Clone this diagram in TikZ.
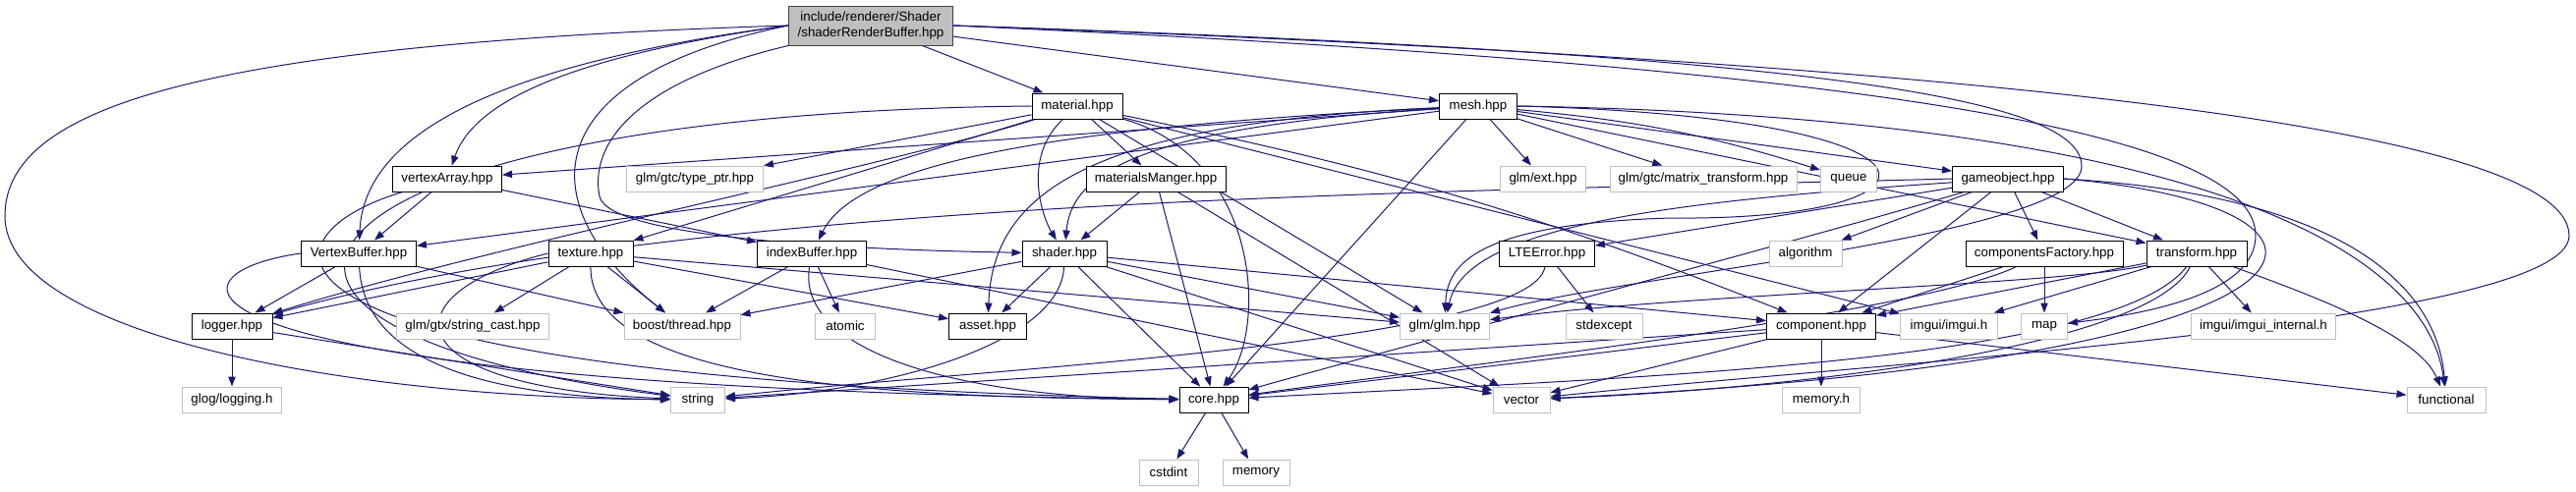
\documentclass[tikz,border=0pt]{standalone}
\usepackage{fontspec}
\setmainfont{Liberation Sans}
\usetikzlibrary{arrows.meta,backgrounds}
\definecolor{Edge}{HTML}{191970}
\definecolor{Frame}{HTML}{BFBFBF}
\definecolor{Rim}{HTML}{404040}

\begin{document}
\begin{tikzpicture}[x=0.75pt,y=-0.75pt,every node/.style={font=\fontsize{10}{12}\selectfont,text=black,inner sep=0pt,minimum height=19.5pt},file/.style={draw=black,fill=white,line width=0.75pt},sys/.style={draw=Frame,fill=white,line width=0.75pt},wd/.style={minimum width=#1*0.75pt},dep/.style={draw=Edge,line width=0.75pt,-{Triangle[length=7.5pt,width=5.5pt]}}]
\useasboundingbox (0,0) rectangle (2621,500);
\node[file,fill=Frame,draw=Rim,wd=167,minimum height=30pt,align=center] (root) at (886,26) {include/renderer/Shader\\/shaderRenderBuffer.hpp};

\node[file,wd=92] (material) at (1096,108) {material.hpp};\node[file,wd=79] (mesh) at (1504,108) {mesh.hpp};

\node[file,wd=111] (vertexArray) at (455,182) {vertexArray.hpp};\node[sys,wd=139] (typePtr) at (707,182) {glm/gtc/type\_ptr.hpp};
\node[file,wd=142] (materialsManger) at (1176,182) {materialsManger.hpp};\node[sys,wd=87] (glmExt) at (1570,182) {glm/ext.hpp};
\node[sys,wd=190] (matrixTransform) at (1733,182) {glm/gtc/matrix\_transform.hpp};\node[sys,wd=57] (queue) at (1881,182) {queue};
\node[file,wd=113] (gameobject) at (2043,182) {gameobject.hpp};

\node[file,wd=117] (vertexBuffer) at (365,258) {VertexBuffer.hpp};\node[file,wd=86] (texture) at (601,258) {texture.hpp};
\node[file,wd=111] (indexBuffer) at (826,258) {indexBuffer.hpp};\node[file,wd=86] (shader) at (1083,258) {shader.hpp};
\node[file,wd=97] (lteError) at (1574,258) {LTEError.hpp};\node[sys,wd=74] (algorithm) at (1837,258) {algorithm};
\node[file,wd=160] (componentsFactory) at (2080,258) {componentsFactory.hpp};\node[file,wd=102] (transform) at (2235,258) {transform.hpp};

\node[file,wd=82] (logger) at (236,332) {logger.hpp};\node[sys,wd=155] (stringCast) at (481,332) {glm/gtx/string\_cast.hpp};
\node[sys,wd=118] (boostThread) at (694,332) {boost/thread.hpp};\node[sys,wd=61] (atomic) at (860,332) {atomic};
\node[file,wd=79] (asset) at (1005,332) {asset.hpp};\node[sys,wd=91] (glmGlm) at (1470,332) {glm/glm.hpp};
\node[sys,wd=78] (stdexcept) at (1632,332) {stdexcept};\node[file,wd=111] (component) at (1853,332) {component.hpp};
\node[sys,wd=99] (imgui) at (1983,332) {imgui/imgui.h};\node[sys,wd=47] (map) at (2080,332) {map};
\node[sys,wd=147] (imguiInternal) at (2303,332) {imgui/imgui\_internal.h};

\node[sys,wd=101] (glog) at (236,407) {glog/logging.h};\node[sys,wd=55] (string) at (710,407) {string};
\node[file,wd=70] (core) at (1235,407) {core.hpp};\node[sys,wd=58] (vector) at (1548,407) {vector};
\node[sys,wd=79] (memoryH) at (1853,407) {memory.h};\node[sys,wd=80] (functional) at (2489,407) {functional};

\node[sys,wd=60] (cstdint) at (1189,481) {cstdint};\node[sys,wd=68] (memory) at (1278,481) {memory};

\begin{scope}[on background layer]
\fill[white] (0,0) rectangle (2621,500);
\draw[dep] (root) -- (material);\draw[dep] (root) -- (mesh);
\draw[dep] (root.west) .. controls (560,60) and (480,110) .. (vertexArray);\draw[dep] (root.west) .. controls (470,70) and (370,150) .. (vertexBuffer);
\draw[dep] (root.south west) .. controls (640,85) and (600,150) .. (610,200) .. controls (620,245) and (900,255) .. (shader);\draw[dep] (root.west) .. controls (540,80) and (540,210) .. (boostThread);
\draw[dep] (root.west) .. controls (200,45) and (5,110) .. (5,220) .. controls (5,340) and (350,405) .. (string);
\draw[dep] (root.east) .. controls (1900,60) and (2614,120) .. (2614,240) .. controls (2614,330) and (1900,370) .. (vector);
\draw[dep] (root.east) .. controls (1950,70) and (2295,140) .. (2295,240) .. controls (2295,300) and (2180,320) .. (map);
\draw[dep] (root.east) .. controls (1850,55) and (2120,100) .. (2118,170) .. controls (2115,240) and (1650,280) .. (glmGlm);

\draw[dep] (material) -- (typePtr);\draw[dep] (material) -- (materialsManger);\draw[dep] (material) -- (texture);
\draw[dep] (material) .. controls (1040,160) and (1060,220) .. (shader);\draw[dep] (material) .. controls (900,170) and (500,250) .. (logger);
\draw[dep] (material) .. controls (1280,160) and (1290,330) .. (core);\draw[dep] (material) -- (glmGlm);\draw[dep] (material) -- (imgui);
\draw[dep] (material) to[bend left=5] (component);\draw[dep] (material.west) .. controls (300,115) and (120,330) .. (string);

\draw[dep] (materialsManger) -- (shader);\draw[dep] (materialsManger) -- (core);\draw[dep] (materialsManger) -- (vector);

\draw[dep] (mesh) -- (vertexArray);\draw[dep] (mesh) -- (vertexBuffer);
\draw[dep] (mesh) .. controls (1050,130) and (870,170) .. (indexBuffer);\draw[dep] (mesh) .. controls (1150,130) and (1090,180) .. (shader);
\draw[dep] (mesh) .. controls (1100,125) and (1010,200) .. (asset);\draw[dep] (mesh) -- (core);
\draw[dep] (mesh) -- (glmExt);\draw[dep] (mesh) -- (matrixTransform);\draw[dep] (mesh) to[bend left=6] (queue);\draw[dep] (mesh) -- (gameobject);\draw[dep] (mesh) -- (transform);
\draw[dep] (mesh.east) .. controls (2250,120) and (2470,260) .. (functional);
\draw[dep] (mesh.east) .. controls (2010,120) and (2000,225) .. (1700,222) .. controls (1500,228) and (1472,270) .. (glmGlm);

\draw[dep] (vertexArray) -- (vertexBuffer);\draw[dep] (vertexArray) -- (indexBuffer);\draw[dep] (vertexArray) .. controls (260,240) and (200,385) .. (core);

\draw[dep] (vertexBuffer) -- (logger);\draw[dep] (vertexBuffer) -- (boostThread);
\draw[dep] (vertexBuffer) .. controls (370,370) and (500,405) .. (string);\draw[dep] (vertexBuffer.west) .. controls (150,280) and (150,395) .. (core);

\draw[dep] (texture) -- (logger);\draw[dep] (texture) -- (stringCast);\draw[dep] (texture) -- (boostThread);
\draw[dep] (texture.west) .. controls (390,300) and (400,395) .. (string);\draw[dep] (texture) .. controls (600,390) and (900,405) .. (core);
\draw[dep] (texture) -- (asset);\draw[dep] (texture) -- (glmGlm);

\draw[dep] (indexBuffer) -- (boostThread);\draw[dep] (indexBuffer) -- (atomic);
\draw[dep] (indexBuffer) .. controls (810,350) and (950,405) .. (core);\draw[dep] (indexBuffer) -- (vector);

\draw[dep] (shader) -- (boostThread);\draw[dep] (shader) -- (asset);\draw[dep] (shader) -- (core);\draw[dep] (shader) -- (glmGlm);\draw[dep] (shader) -- (vector);
\draw[dep] (shader) .. controls (1080,350) and (900,400) .. (string);\draw[dep] (shader) -- (component);

\draw[dep] (lteError) -- (stdexcept);\draw[dep] (lteError) .. controls (1560,350) and (1000,375) .. (string);

\draw[dep] (gameobject) -- (algorithm);\draw[dep] (gameobject) -- (componentsFactory);\draw[dep] (gameobject) -- (transform);
\draw[dep] (gameobject) -- (component);\draw[dep] (gameobject) -- (lteError);
\draw[dep] (gameobject) .. controls (1700,205) and (1490,230) .. (glmGlm);\draw[dep] (gameobject.west) .. controls (1500,195) and (700,200) .. (logger);
\draw[dep] (gameobject) .. controls (1850,240) and (1400,360) .. (core);
\draw[dep] (gameobject.east) .. controls (2400,200) and (2480,300) .. (functional);\draw[dep] (gameobject.east) .. controls (2430,210) and (2430,365) .. (vector);

\draw[dep] (componentsFactory) -- (component);\draw[dep] (componentsFactory) -- (map);
\draw[dep] (componentsFactory) .. controls (1950,320) and (1500,370) .. (core);

\draw[dep] (transform) -- (component);\draw[dep] (transform) -- (imgui);\draw[dep] (transform) -- (imguiInternal);
\draw[dep] (transform) .. controls (2350,300) and (2460,340) .. (functional);\draw[dep] (transform) .. controls (2100,290) and (1700,300) .. (glmGlm);
\draw[dep] (transform) .. controls (2150,370) and (1650,385) .. (core);\draw[dep] (transform) .. controls (2190,350) and (1850,395) .. (vector);

\draw[dep] (component) -- (memoryH);\draw[dep] (component) -- (functional);\draw[dep] (component) -- (core);\draw[dep] (component) -- (string);\draw[dep] (component) -- (vector);

\draw[dep] (logger) -- (glog);\draw[dep] (logger) -- (string);
\draw[dep] (core) -- (cstdint);\draw[dep] (core) -- (memory);
\end{scope}
\end{tikzpicture}
\end{document}
